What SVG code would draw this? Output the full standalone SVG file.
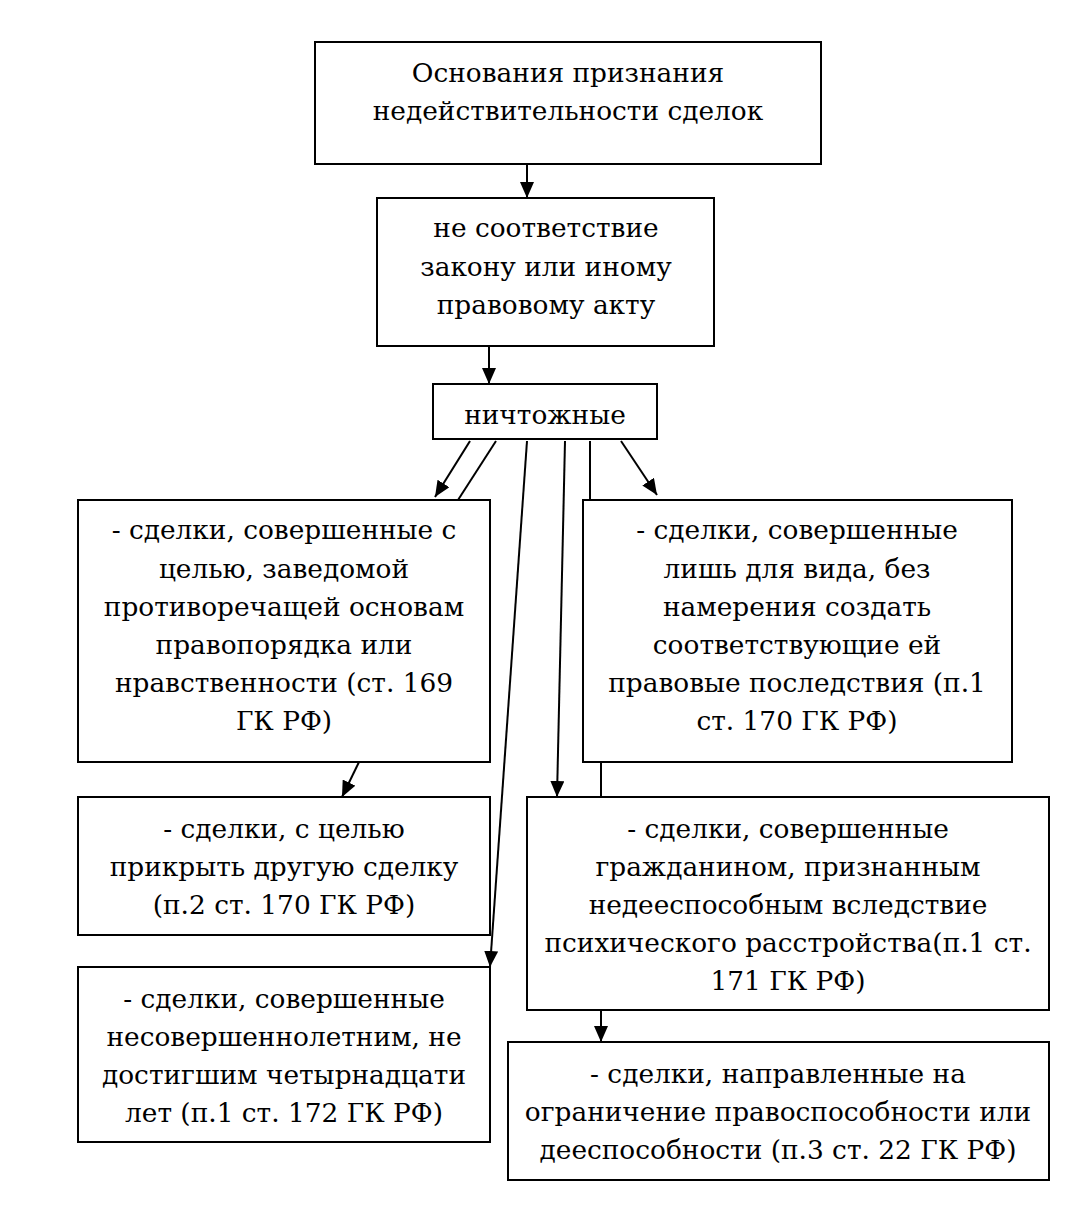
<svg xmlns="http://www.w3.org/2000/svg" width="1077" height="1224" viewBox="0 0 1077 1224">
<style>
.box{fill:#fff;stroke:#000;stroke-width:2}
.t{font-family:'DejaVu Serif','Liberation Serif',serif;font-size:26.4px;fill:#000;text-anchor:middle}
.c{fill:none;stroke:#000;stroke-width:2}
</style>
<defs>
<marker id="ah" viewBox="0 0 16 14" refX="16" refY="7" markerWidth="16" markerHeight="14" markerUnits="userSpaceOnUse" orient="auto">
<path d="M0,0 L16,7 L0,14 Z" fill="#000"/>
</marker>
</defs>
<rect width="1077" height="1224" fill="#fff"/>
<g id="connectors">
<line class="c" x1="527" y1="164" x2="527" y2="198" marker-end="url(#ah)"/>
<line class="c" x1="489" y1="346" x2="489" y2="384" marker-end="url(#ah)"/>
<line class="c" x1="470" y1="441" x2="435" y2="497" marker-end="url(#ah)"/>
<line class="c" x1="496" y1="441" x2="458" y2="500"/>
<line class="c" x1="527" y1="441" x2="490" y2="967" marker-end="url(#ah)"/>
<line class="c" x1="565" y1="441" x2="557" y2="797" marker-end="url(#ah)"/>
<line class="c" x1="590" y1="441" x2="590" y2="500"/>
<line class="c" x1="621" y1="441" x2="657" y2="495" marker-end="url(#ah)"/>
<line class="c" x1="359" y1="762" x2="342" y2="797" marker-end="url(#ah)"/>
<line class="c" x1="601" y1="762" x2="601" y2="797"/>
<line class="c" x1="601" y1="1010" x2="601" y2="1042" marker-end="url(#ah)"/>
</g>
<g id="n1">
<rect class="box" x="315" y="42" width="506" height="122"/>
<text class="t" x="568" y="82">Основания признания</text>
<text class="t" x="568" y="120">недействительности сделок</text>
</g>
<g id="n2">
<rect class="box" x="377" y="198" width="337" height="148"/>
<text class="t" x="546" y="237">не соответствие</text>
<text class="t" x="546" y="276">закону или иному</text>
<text class="t" x="546" y="314">правовому акту</text>
</g>
<g id="n3">
<rect class="box" x="433" y="384" width="224" height="55"/>
<text class="t" x="545" y="424">ничтожные</text>
</g>
<g id="nA">
<rect class="box" x="78" y="500" width="412" height="262"/>
<text class="t" x="284" y="539">- сделки, совершенные с</text>
<text class="t" x="284" y="578">целью, заведомой</text>
<text class="t" x="284" y="616">противоречащей основам</text>
<text class="t" x="284" y="654">правопорядка или</text>
<text class="t" x="284" y="692">нравственности (ст. 169</text>
<text class="t" x="284" y="730">ГК РФ)</text>
</g>
<g id="nB">
<rect class="box" x="583" y="500" width="429" height="262"/>
<text class="t" x="797" y="539">- сделки, совершенные</text>
<text class="t" x="797" y="578">лишь для вида, без</text>
<text class="t" x="797" y="616">намерения создать</text>
<text class="t" x="797" y="654">соответствующие ей</text>
<text class="t" x="797" y="692">правовые последствия (п.1</text>
<text class="t" x="797" y="730">ст. 170 ГК РФ)</text>
</g>
<g id="nC">
<rect class="box" x="78" y="797" width="412" height="138"/>
<text class="t" x="284" y="838">- сделки, с целью</text>
<text class="t" x="284" y="876">прикрыть другую сделку</text>
<text class="t" x="284" y="914">(п.2 ст. 170 ГК РФ)</text>
</g>
<g id="nD">
<rect class="box" x="527" y="797" width="522" height="213"/>
<text class="t" x="788" y="838">- сделки, совершенные</text>
<text class="t" x="788" y="876">гражданином, признанным</text>
<text class="t" x="788" y="914">недееспособным вследствие</text>
<text class="t" x="788" y="952">психического расстройства(п.1 ст.</text>
<text class="t" x="788" y="990">171 ГК РФ)</text>
</g>
<g id="nE">
<rect class="box" x="78" y="967" width="412" height="175"/>
<text class="t" x="284" y="1008">- сделки, совершенные</text>
<text class="t" x="284" y="1046">несовершеннолетним, не</text>
<text class="t" x="284" y="1084">достигшим четырнадцати</text>
<text class="t" x="284" y="1122">лет (п.1 ст. 172 ГК РФ)</text>
</g>
<g id="nF">
<rect class="box" x="508" y="1042" width="541" height="138"/>
<text class="t" x="778" y="1083">- сделки, направленные на</text>
<text class="t" x="778" y="1121">ограничение правоспособности или</text>
<text class="t" x="778" y="1159">дееспособности (п.3 ст. 22 ГК РФ)</text>
</g>
</svg>
